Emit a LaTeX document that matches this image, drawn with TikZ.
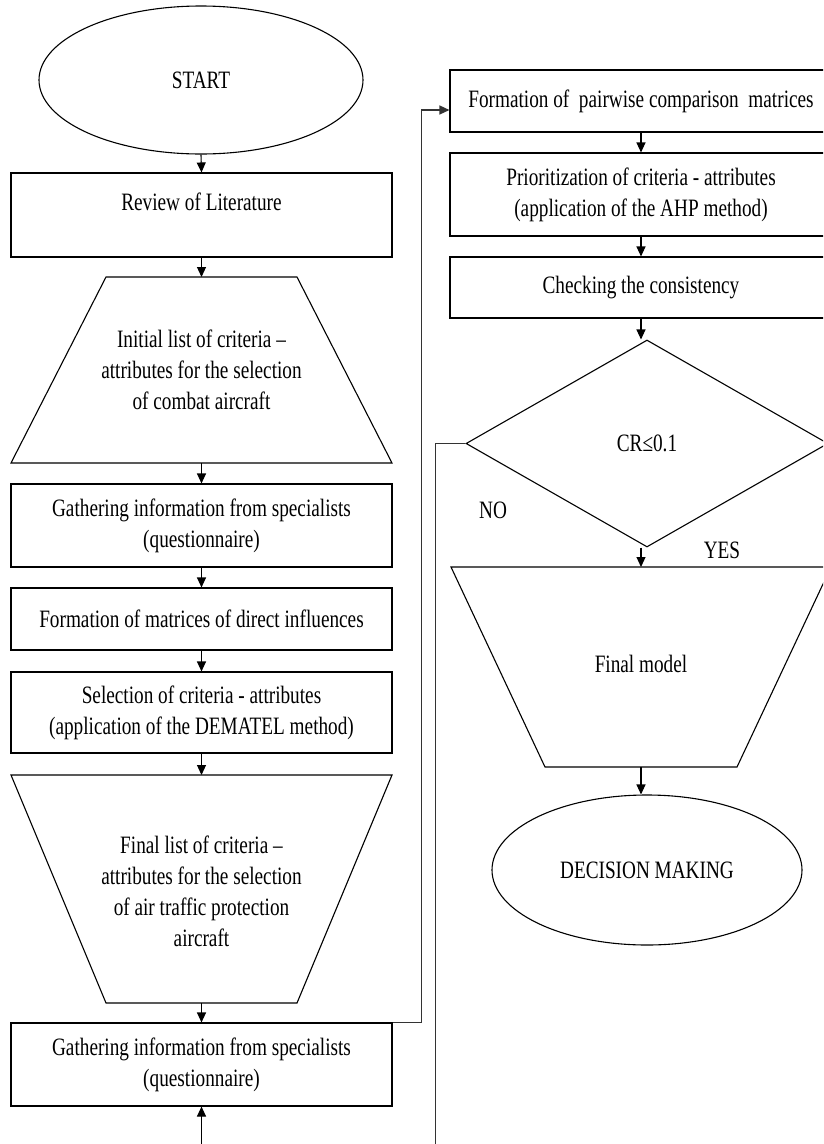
\documentclass[tikz,border=0pt]{standalone}
\usepackage{fontspec}
\setmainfont{Liberation Serif}[FakeStretch=0.77]
\usetikzlibrary{shapes.geometric,arrows.meta,calc}
\begin{document}
\begin{tikzpicture}[x=1pt,y=-1pt,
  every node/.style={font=\fontsize{25}{31}\selectfont, align=center},
  box/.style={draw, line width=1.1pt, minimum width=381pt, inner sep=0pt},
  oval/.style={draw, ellipse, line width=1.1pt, inner sep=0pt},
  ln/.style={line width=1.1pt},
  loop/.style={line width=1.4pt, black!80},
  arr/.style={line width=1.1pt, -{Triangle[length=10pt,width=9pt]}}]
\useasboundingbox (0,0) rectangle (823,1144);
\clip (0,0) rectangle (823,1144);

% ---------- left column ----------
\node[oval, minimum width=324pt, minimum height=148pt] (start) at (201,80) {START};
\node[box, minimum height=84pt] (review) at (201.5,215) {};
\node (reviewtxt) at ([yshift=13pt]review.center) {Review of Literature};

\draw[ln] (106,277) -- (297,277) -- (392,463) -- (11,463) -- cycle;
\coordinate (initT) at (201.5,277);
\coordinate (initB) at (201.5,463);
\node (init) at (201.5,370) {Initial list of criteria –\\attributes for the selection\\of combat aircraft};

\node[box, minimum height=83pt] (g1) at (201.5,525.5) {Gathering information from specialists\\(questionnaire)};
\node[box, minimum height=62pt] (fmat) at (201.5,619) {Formation of matrices of direct influences};
\node[box, minimum height=81pt] (sel) at (201.5,712.5) {Selection of criteria - attributes\\(application of the DEMATEL method)};

\draw[ln] (11,775) -- (392,775) -- (297,1003) -- (106,1003) -- cycle;
\coordinate (finT) at (201.5,775);
\coordinate (finB) at (201.5,1003);
\node (fin) at (201.5,891.5) {Final list of criteria –\\attributes for the selection\\of air traffic protection\\aircraft};

\node[box, minimum height=83pt] (g2) at (201.5,1064.5) {Gathering information from specialists\\(questionnaire)};
\coordinate (botL) at (201.5,1150);

\draw[arr] (start.south) -- (review.north);
\draw[arr] (review.south) -- (initT);
\draw[arr] (initB) -- (g1.north);
\draw[arr] (g1.south) -- (fmat.north);
\draw[arr] (fmat.south) -- (sel.north);
\draw[arr] (sel.south) -- (finT);
\draw[arr] (finB) -- (g2.north);
\draw[arr] (botL) -- (g2.south);

% ---------- right column ----------
\node[box, minimum width=382pt, minimum height=62pt] (pair) at (641,101) {Formation of\ \ pairwise comparison\ \ matrices};
\node[box, minimum width=382pt, minimum height=83pt] (prio) at (641,194.5) {Prioritization of criteria - attributes\\(application of the AHP method)};
\node[box, minimum width=382pt, minimum height=61pt] (check) at (641,287.5) {Checking the consistency};
\node[draw, diamond, line width=1.1pt, inner sep=0pt, minimum width=362pt, minimum height=207pt] (dia) at (647,443.5) {CR≤0.1};

\draw[ln] (451,567) -- (831,567) -- (737,767) -- (545,767) -- cycle;
\coordinate (fmT) at (641,567);
\coordinate (fmB) at (641,767);
\node (fmodel) at (641,664) {Final model};
\node[oval, minimum width=310pt, minimum height=150pt] (dec) at (647,870) {DECISION MAKING};

\node (yes) at (722,550) {YES};
\node (no) at (493,510) {NO};

\draw[arr] (pair.south) -- (prio.north);
\draw[arr] (prio.south) -- (check.north);
\draw[arr] (check.south) -- (check.south |- dia.north);
\draw[arr] (fmT |- dia.south) -- (fmT);
\draw[arr] (fmB) -- (fmB |- dec.north);

% ---------- loops ----------
\draw[loop, -{Triangle[length=10pt,width=9pt]}] (g2.north east) -- ++(29,0) |- ([yshift=-9pt]pair.west);
\draw[loop] (dia.west) -- ++(-30,0) -- ++(0,720);
\end{tikzpicture}
\end{document}
